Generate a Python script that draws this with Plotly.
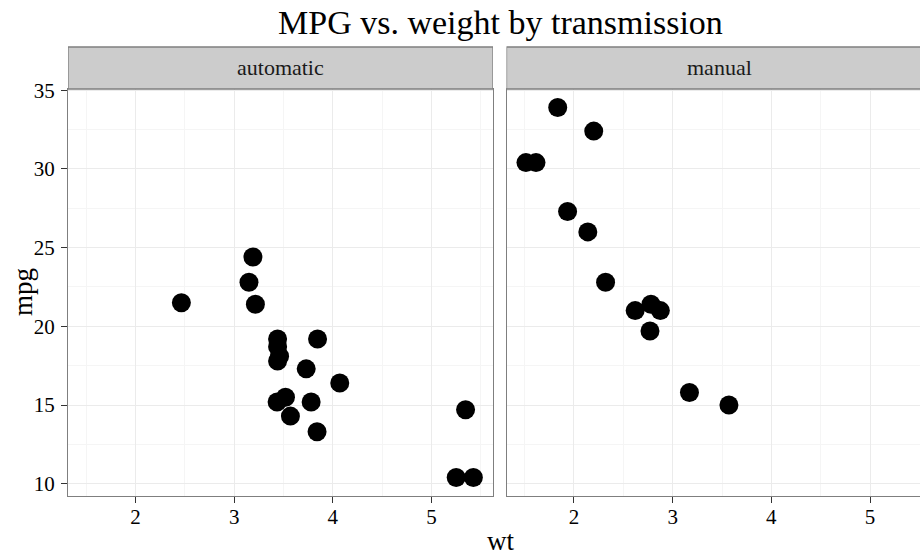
import plotly.graph_objects as go

# mtcars: weight (1000 lbs) and mpg, split by transmission
auto_wt = [3.215, 3.440, 3.460, 3.570, 3.190, 3.150, 3.440, 3.440, 4.070, 3.730,
           3.780, 5.250, 5.424, 5.345, 2.465, 3.520, 3.435, 3.840, 3.845]
auto_mpg = [21.4, 18.7, 18.1, 14.3, 24.4, 22.8, 19.2, 17.8, 16.4, 17.3,
            15.2, 10.4, 10.4, 14.7, 21.5, 15.5, 15.2, 13.3, 19.2]
manual_wt = [2.620, 2.875, 2.320, 2.200, 1.615, 1.835, 1.935, 2.140, 1.513,
             3.170, 2.770, 3.570, 2.780]
manual_mpg = [21.0, 21.0, 22.8, 32.4, 30.4, 33.9, 27.3, 26.0, 30.4,
              15.8, 19.7, 15.0, 21.4]
facet_labels = ["automatic", "manual"]
x_ticks = [2, 3, 4, 5]
y_ticks = [10, 15, 20, 25, 30, 35]
title_text = "MPG vs. weight by transmission"
x_label = "wt"
y_label = "mpg"

FONT = "Liberation Serif"
W, H = 920, 556
ML, MR, MT, MB = 68, 0, 89, 60
PW = W - ML - MR
PH = H - MT - MB

xmin, xmax = 1.316, 5.623
ppu = 425 / (xmax - xmin)
x2_left_px = 438.5
x2_end = xmin + (PW - x2_left_px) / ppu

fig = go.Figure()
fig.add_trace(go.Scatter(x=auto_wt, y=auto_mpg, mode="markers", xaxis="x", yaxis="y",
                         marker=dict(size=19, color="black", line=dict(width=0)),
                         showlegend=False, hoverinfo="x+y"))
fig.add_trace(go.Scatter(x=manual_wt, y=manual_mpg, mode="markers", xaxis="x2", yaxis="y2",
                         marker=dict(size=19, color="black", line=dict(width=0)),
                         showlegend=False, hoverinfo="x+y"))

axis_common = dict(
    showgrid=True, gridcolor="#EBEBEB", gridwidth=1, zeroline=False,
    showline=True, linecolor="#7F7F7F", linewidth=1.3,
    ticklen=6, tickwidth=1.3, tickcolor="#333333",
    tickfont=dict(family=FONT, size=21, color="black"),
)
x_minor = dict(tickvals=[1.5, 2.5, 3.5, 4.5, 5.5], showgrid=True,
               gridcolor="#F5F5F5", gridwidth=1, ticks="")
y_minor = dict(tickvals=[12.5, 17.5, 22.5, 27.5, 32.5], showgrid=True,
               gridcolor="#F5F5F5", gridwidth=1, ticks="")

fig.update_layout(
    width=W, height=H,
    margin=dict(l=ML, r=MR, t=MT, b=MB, pad=0),
    paper_bgcolor="white", plot_bgcolor="white",
    font=dict(family=FONT),
    xaxis=dict(domain=[0, 425 / PW], range=[xmin, xmax], tickvals=x_ticks,
               mirror=True, anchor="y", ticks="outside", ticklabelstandoff=-4,
               minor=x_minor, **axis_common),
    xaxis2=dict(domain=[x2_left_px / PW, 1], range=[xmin, x2_end], tickvals=x_ticks,
                mirror=True, anchor="y2", ticks="outside", ticklabelstandoff=-4,
                minor=x_minor, **axis_common),
    yaxis=dict(domain=[0, 1], range=[9.225, 35.075], tickvals=y_ticks, mirror=True,
               anchor="x", ticks="outside", ticklabelstandoff=2,
               minor=y_minor, **axis_common),
    yaxis2=dict(domain=[0, 1], range=[9.225, 35.075], tickvals=y_ticks, mirror=False,
                anchor="x2", showticklabels=False, matches="y", ticks="",
                minor=y_minor, **axis_common),
)

strip_h = 42 / PH
for xr, lab in zip(["x", "x2"], facet_labels):
    fig.add_shape(type="rect", xref=xr, yref="paper", x0=xmin, x1=xmax,
                  y0=1, y1=1 + strip_h, fillcolor="#CCCCCC",
                  line=dict(color="#7F7F7F", width=1.3), layer="above")
    fig.add_annotation(text=lab, xref=xr, yref="paper", x=(xmin + xmax) / 2,
                       y=1 + strip_h / 2, showarrow=False, xanchor="center",
                       yanchor="middle", font=dict(family=FONT, size=22, color="#1A1A1A"))

fig.add_annotation(text=title_text, xref="paper", yref="paper",
                   x=(500 - ML) / PW, y=1 + (MT - 22) / PH, showarrow=False,
                   xanchor="center", yanchor="middle",
                   font=dict(family=FONT, size=34, color="black"))
fig.add_annotation(text=x_label, xref="paper", yref="paper",
                   x=(500 - ML) / PW, y=-(541 - (H - MB)) / PH, showarrow=False,
                   xanchor="center", yanchor="middle",
                   font=dict(family=FONT, size=27, color="black"))
fig.add_annotation(text=y_label, xref="paper", yref="paper",
                   x=(22.5 - ML) / PW, y=0.5, showarrow=False, textangle=-90,
                   xanchor="center", yanchor="middle",
                   font=dict(family=FONT, size=27, color="black"))

fig.write_html("out.html")
